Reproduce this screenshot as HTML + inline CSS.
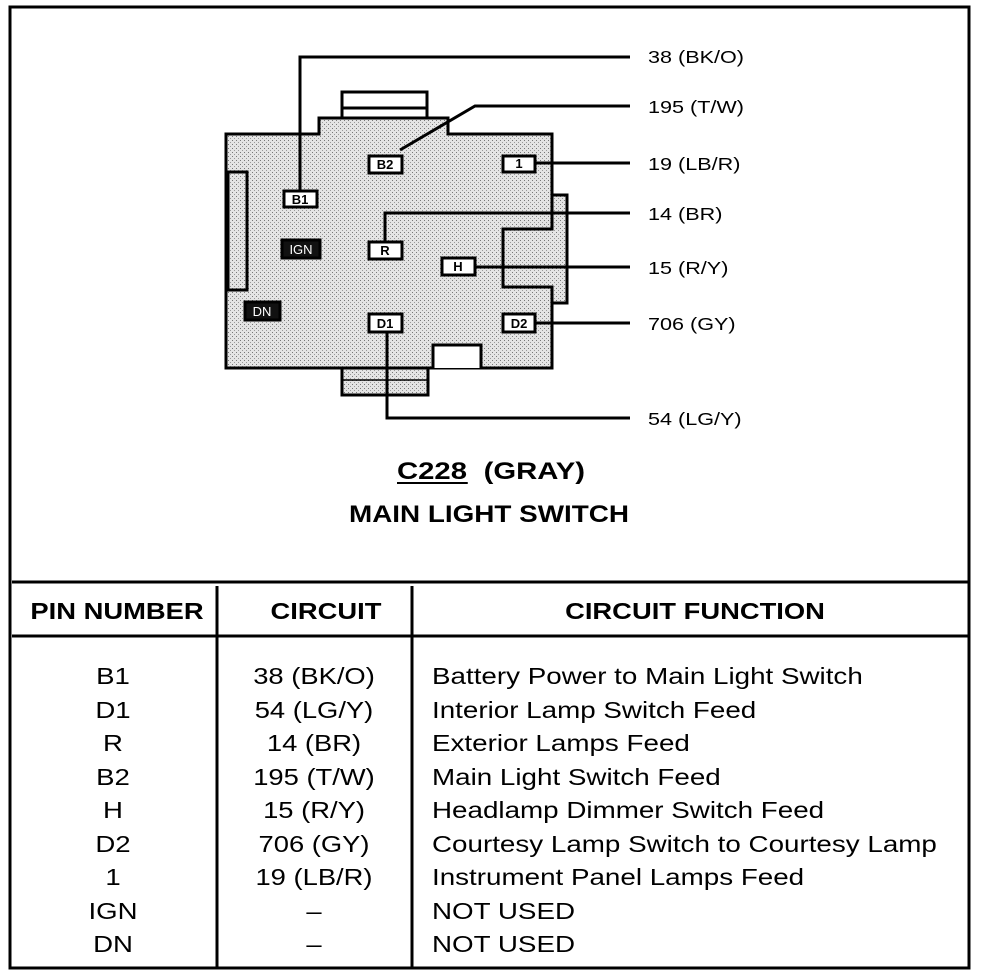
<!DOCTYPE html>
<html><head><style>html,body{margin:0;padding:0;background:#fff}svg{display:block}</style></head>
<body>
<svg width="992" height="978" xmlns="http://www.w3.org/2000/svg" font-family="Liberation Sans, Arial, sans-serif">
<defs>
<pattern id="dots" width="4" height="4" patternUnits="userSpaceOnUse">
<rect width="4" height="4" fill="#e4e4e4"/><rect x="0" y="0" width="1" height="1" fill="#777"/><rect x="2" y="2" width="1" height="1" fill="#999"/>
</pattern>
</defs>
<rect x="10" y="7" width="959" height="961" fill="none" stroke="#000" stroke-width="3"/>
<g stroke="#000" stroke-width="3">
<rect x="342" y="92" width="85" height="26" fill="#fff"/>
<line x1="342" y1="108" x2="427" y2="108"/>
<rect x="503" y="195" width="64" height="108" fill="url(#dots)" stroke="none"/>
<path d="M552,195 H567 V303 H552" fill="none"/>
<path d="M226,134 H319 V118 H448 V134 H552 V229 H503 V287 H552 V368 H226 Z" fill="url(#dots)"/>
<rect x="342" y="368" width="86" height="27" fill="url(#dots)"/>
<line x1="342" y1="380" x2="428" y2="380" stroke-width="1.5"/>
<path d="M433,368 V345 H481 V368" fill="#fff"/>
<rect x="228" y="172" width="19" height="118" fill="url(#dots)"/>
</g>
<g stroke="#000" stroke-width="3" fill="none">
<polyline points="300,191 300,57 630,57"/>
<polyline points="400,150 475,106 630,106"/>
<line x1="535" y1="163" x2="630" y2="163"/>
<polyline points="385,242 385,213 630,213"/>
<line x1="475" y1="267" x2="630" y2="267"/>
<line x1="535" y1="323" x2="630" y2="323"/>
<polyline points="387,332 387,418 630,418"/>
</g>
<g stroke="#000" stroke-width="3" fill="#fff">
<rect x="369" y="156" width="33" height="17"/>
<rect x="503" y="156" width="32" height="16"/>
<rect x="284" y="191" width="33" height="16"/>
<rect x="369" y="242" width="33" height="17"/>
<rect x="442" y="258" width="33" height="17"/>
<rect x="369" y="314" width="33" height="18"/>
<rect x="503" y="314" width="32" height="18"/>
<rect x="282" y="240" width="38" height="18" fill="#111"/>
<rect x="245" y="302" width="35" height="18" fill="#111"/>
</g>
<g font-size="13" font-weight="bold" text-anchor="middle">
<text x="385" y="169">B2</text><text x="519" y="168">1</text><text x="300" y="204">B1</text>
<text x="385" y="255">R</text><text x="458" y="271">H</text><text x="385" y="328">D1</text><text x="519" y="328">D2</text>
<text x="301" y="254" fill="#fff" font-weight="normal">IGN</text><text x="262" y="316" fill="#fff" font-weight="normal">DN</text>
</g>
<g font-size="18" transform="translate(648 0) scale(1.2 1)">
<text x="0" y="63">38 (BK/O)</text>
<text x="0" y="113">195 (T/W)</text>
<text x="0" y="170">19 (LB/R)</text>
<text x="0" y="220">14 (BR)</text>
<text x="0" y="274">15 (R/Y)</text>
<text x="0" y="330">706 (GY)</text>
<text x="0" y="425">54 (LG/Y)</text>
</g>
<g font-size="24" font-weight="bold">
<g transform="translate(397 0) scale(1.22 1)">
<text x="0" y="479">C228</text>
<line x1="0" y1="483" x2="58" y2="483" stroke="#000" stroke-width="2"/>
<text x="71" y="479">(GRAY)</text>
</g>
<text x="349" y="522" textLength="280" lengthAdjust="spacingAndGlyphs">MAIN LIGHT SWITCH</text>
</g>
<g stroke="#000" stroke-width="3">
<line x1="12" y1="582" x2="968" y2="582"/>
<line x1="12" y1="636" x2="968" y2="636"/>
<line x1="217" y1="586" x2="217" y2="968"/>
<line x1="412" y1="586" x2="412" y2="968"/>
</g>
<g font-size="23" font-weight="bold" text-anchor="middle">
<g transform="translate(117 0) scale(1.19 1)"><text x="0" y="619">PIN NUMBER</text></g>
<g transform="translate(326 0) scale(1.19 1)"><text x="0" y="619">CIRCUIT</text></g>
<g transform="translate(695 0) scale(1.19 1)"><text x="0" y="619">CIRCUIT FUNCTION</text></g>
</g>
<g font-size="23">
<g text-anchor="middle" transform="translate(113 0) scale(1.2 1)">
<text x="0" y="684">B1</text><text x="0" y="718">D1</text><text x="0" y="751">R</text><text x="0" y="785">B2</text><text x="0" y="818">H</text><text x="0" y="852">D2</text><text x="0" y="885">1</text><text x="0" y="919">IGN</text><text x="0" y="952">DN</text>
</g>
<g text-anchor="middle" transform="translate(314 0) scale(1.19 1)">
<text x="0" y="684">38 (BK/O)</text><text x="0" y="718">54 (LG/Y)</text><text x="0" y="751">14 (BR)</text><text x="0" y="785">195 (T/W)</text><text x="0" y="818">15 (R/Y)</text><text x="0" y="852">706 (GY)</text><text x="0" y="885">19 (LB/R)</text><text x="0" y="919">–</text><text x="0" y="952">–</text>
</g>
<g transform="translate(432 0) scale(1.208 1)">
<text x="0" y="684">Battery Power to Main Light Switch</text>
<text x="0" y="718">Interior Lamp Switch Feed</text>
<text x="0" y="751">Exterior Lamps Feed</text>
<text x="0" y="785">Main Light Switch Feed</text>
<text x="0" y="818">Headlamp Dimmer Switch Feed</text>
<text x="0" y="852">Courtesy Lamp Switch to Courtesy Lamp</text>
<text x="0" y="885">Instrument Panel Lamps Feed</text>
<text x="0" y="919">NOT USED</text>
<text x="0" y="952">NOT USED</text>
</g>
</g>
</svg>
</body></html>
